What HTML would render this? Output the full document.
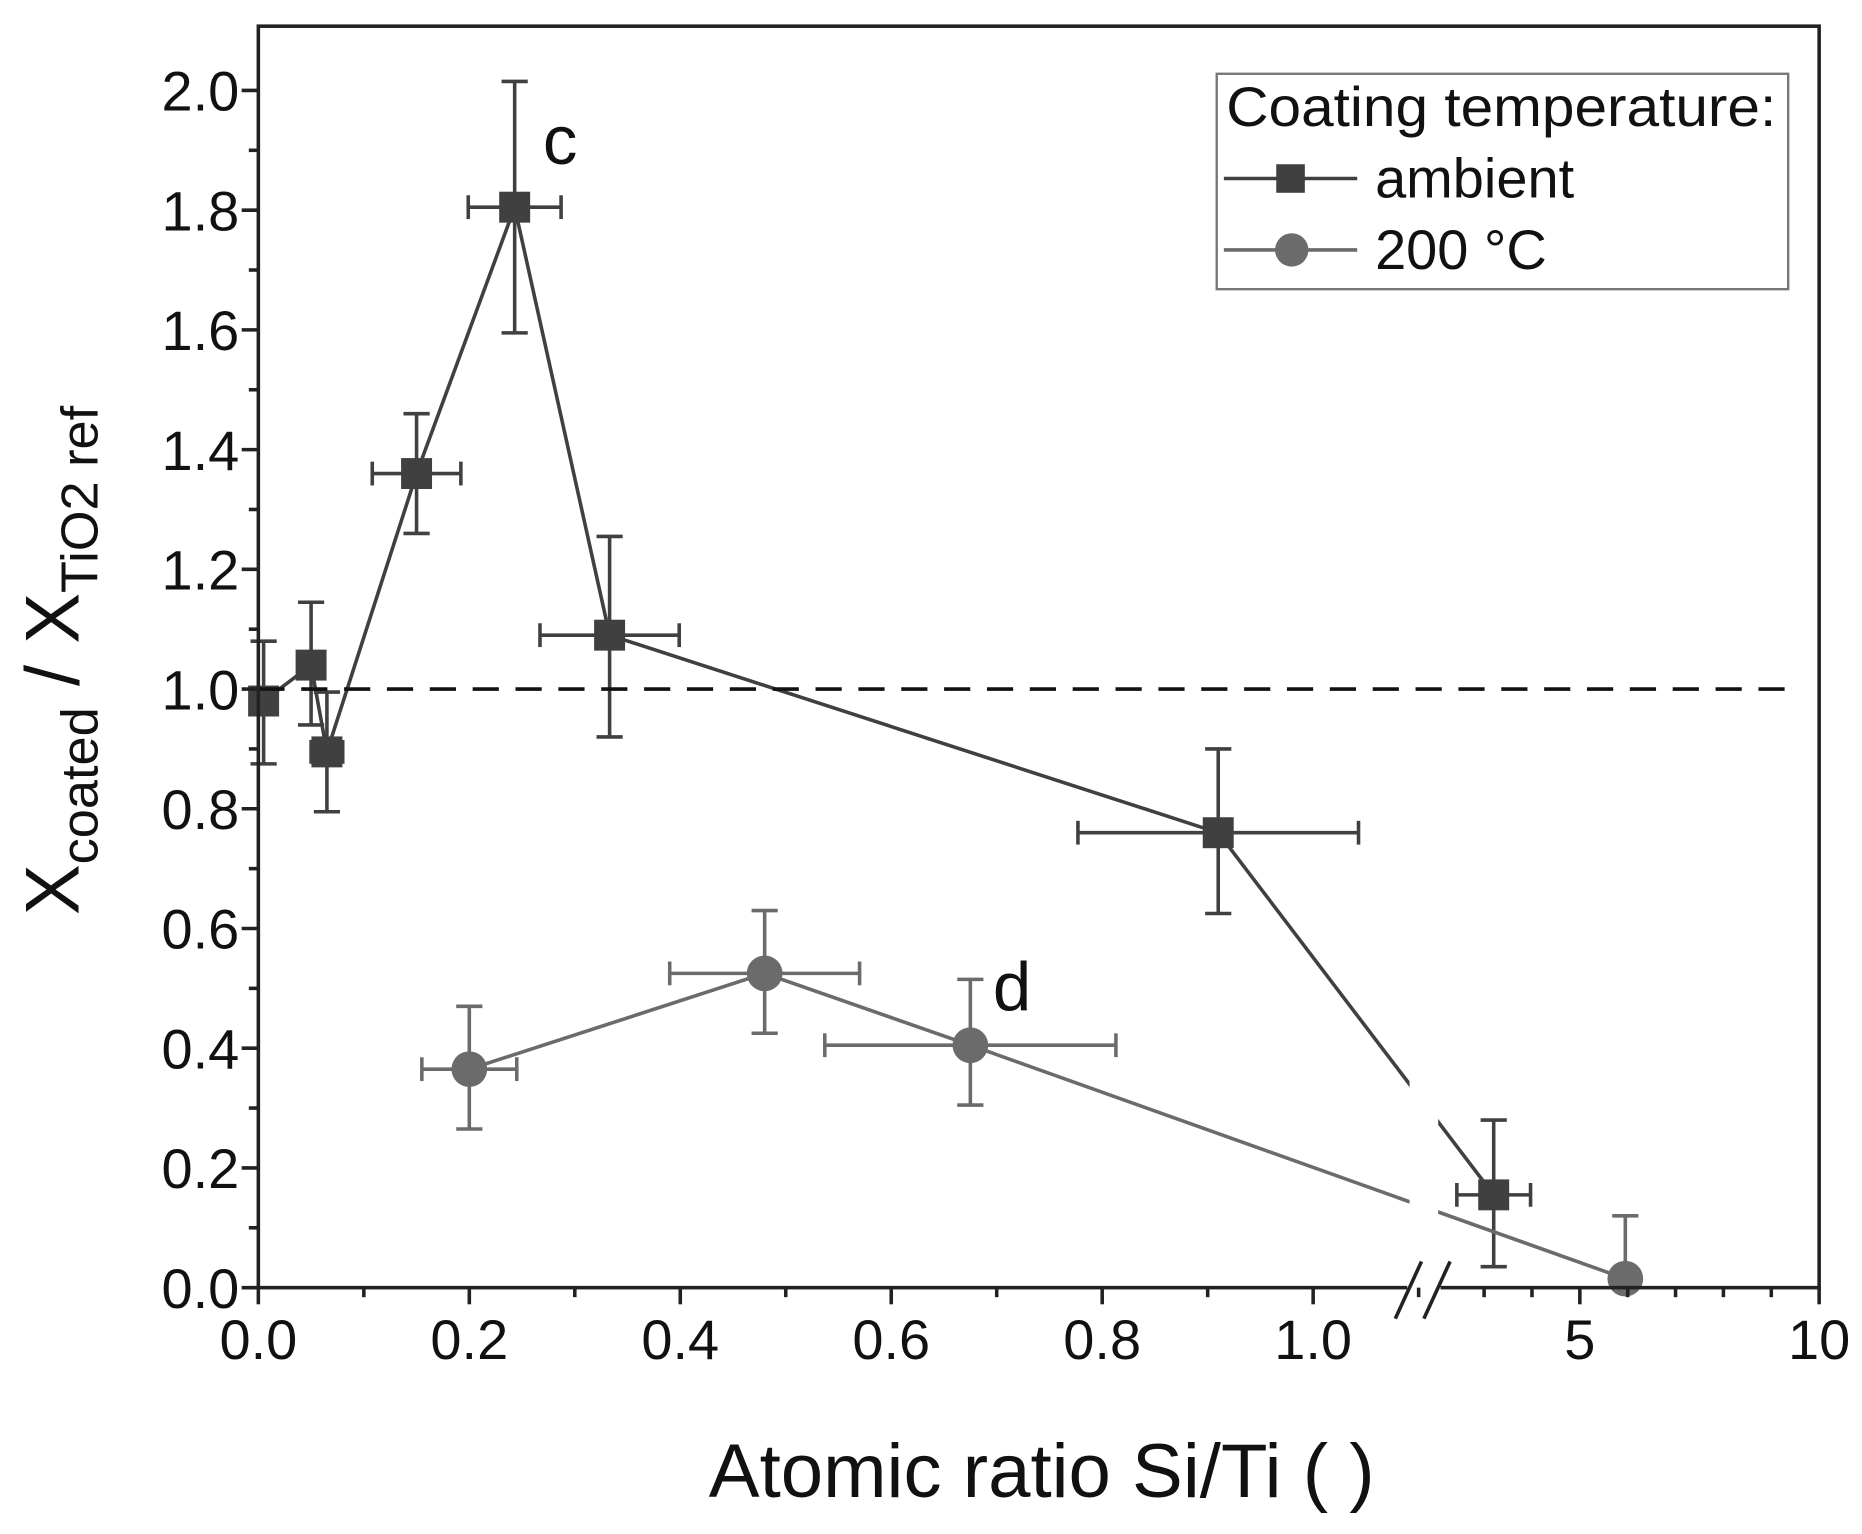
<!DOCTYPE html>
<html><head><meta charset="utf-8"><style>
html,body{margin:0;padding:0;background:#fff;}
svg{display:block;font-family:"Liberation Sans",Arial,sans-serif;}
</style></head><body>
<svg id="chart" width="1862" height="1534" viewBox="0 0 1564 1289" preserveAspectRatio="none" xmlns="http://www.w3.org/2000/svg">
<g id="g"></g>
</svg>
<script>
const ambX=[0.005,0.05,0.065,0.15,0.243,0.333,0.91,3.2];
const ambY=[0.98,1.04,0.895,1.36,1.805,1.09,0.76,0.155];
const ambXerr=[0.005,0,0.015,0.042,0.044,0.066,0.133,0.77];
const ambYlo=[0.875,0.94,0.795,1.26,1.595,0.92,0.625,0.035];
const ambYhi=[1.08,1.145,0.995,1.46,2.015,1.255,0.9,0.28];
const hotX=[0.2,0.48,0.675,5.95];
const hotY=[0.365,0.525,0.405,0.015];
const hotXerr=[0.045,0.09,0.138,0];
const hotYlo=[0.265,0.425,0.305,0.015];
const hotYhi=[0.47,0.63,0.515,0.12];
const yTicks=[0,0.2,0.4,0.6,0.8,1.0,1.2,1.4,1.6,1.8,2.0];
const xTicksL=[0,0.2,0.4,0.6,0.8,1.0];
const xTicksR=[5,10];

const L=217,R=1528,T=22,B=1082,BRK=1196;
function sx(v){return v<=1.15? L+v*886 : 1327+(v-5)*40.2;}
function sy(v){return B-v*503;}
const NS="http://www.w3.org/2000/svg";
const g=document.getElementById('g');
function el(t,a,txt){const e=document.createElementNS(NS,t);for(const k in a)e.setAttribute(k,a[k]);if(txt!==undefined)e.textContent=txt;g.appendChild(e);return e;}

function series(xs,ys,xe,ylo,yhi,col,shape,name){
  let pts=xs.map((x,i)=>sx(x)+','+sy(ys[i])).join(' ');
  let pl=el('polyline',{points:pts,fill:'none',stroke:col,'stroke-width':3});
  
  
  xs.forEach((x,i)=>{
    const cx=sx(x),cy=sy(ys[i]);
    const eb=el('g',{stroke:col,'stroke-width':3,fill:'none'});
    
    
    const y1=sy(yhi[i]),y2=sy(ylo[i]);
    [{x1:cx,x2:cx,y1:y1,y2:y2},{x1:cx-11,x2:cx+11,y1:y1,y2:y1},{x1:cx-11,x2:cx+11,y1:y2,y2:y2}].forEach(a=>{const e=document.createElementNS(NS,'line');for(const k in a)e.setAttribute(k,a[k]);eb.appendChild(e);});
    if(xe[i]>0){
      const xa=sx(x-xe[i]),xb=sx(x+xe[i]);
      [{x1:xa,x2:xb,y1:cy,y2:cy},{x1:xa,x2:xa,y1:cy-10,y2:cy+10},{x1:xb,x2:xb,y1:cy-10,y2:cy+10}].forEach(a=>{const e=document.createElementNS(NS,'line');for(const k in a)e.setAttribute(k,a[k]);eb.appendChild(e);});
    }
    let m;
    if(shape==='sq') m=el('rect',{x:cx-13,y:cy-13,width:26,height:26,fill:col});
    else m=el('circle',{cx:cx,cy:cy,r:15,fill:col});
    
    
  });
}
series(ambX,ambY,ambXerr,ambYlo,ambYhi,'#404040','sq','ambient');
series(hotX,hotY,hotXerr,hotYlo,hotYhi,'#6b6b6b','ci','200c');

let gap=el('rect',{x:BRK-12,y:T+5,width:24,height:B-T-20,fill:'#fff'});



let d=el('line',{x1:L,x2:1510,y1:sy(1),y2:sy(1),stroke:'#111','stroke-width':3,'stroke-dasharray':'22 14'});



let fr=el('rect',{x:L,y:T,width:R-L,height:B-T,fill:'none',stroke:'#222','stroke-width':3});


let bm=el('rect',{x:BRK-14,y:B-4,width:28,height:8,fill:'#fff'});


[BRK-12,BRK+12].forEach(bx=>{let s=el('line',{x1:bx-12,x2:bx+10,y1:B+26,y2:B-22,stroke:'#222','stroke-width':3});

});

yTicks.forEach((v,i)=>{
  const y=sy(v);
  el('line',{x1:L-14,x2:L,y1:y,y2:y,stroke:'#222','stroke-width':3});
  if(i<yTicks.length-1){const ym=sy(v+0.1);el('line',{x1:L-8,x2:L,y1:ym,y2:ym,stroke:'#222','stroke-width':3});}
  let t=el('text',{x:L-16,y:y+17,'text-anchor':'end','font-size':47,fill:'#111'},v.toFixed(1));
  
  
});
xTicksL.forEach((v,i)=>{
  const x=sx(v);
  el('line',{x1:x,x2:x,y1:B,y2:B+14,stroke:'#222','stroke-width':3});
  el('line',{x1:sx(v+0.1),x2:sx(v+0.1),y1:B,y2:B+8,stroke:'#222','stroke-width':3});
  let t=el('text',{x:x,y:B+60,'text-anchor':'middle','font-size':47,fill:'#111'},v.toFixed(1));
  
  
});
for(let v=3;v<=10;v++){const x=sx(v);el('line',{x1:x,x2:x,y1:B,y2:B+(v%5===0?14:8),stroke:'#222','stroke-width':3});}
xTicksR.forEach(v=>{
  let t=el('text',{x:sx(v),y:B+60,'text-anchor':'middle','font-size':47,fill:'#111'},String(v));
  
  
});
</script>
<script>
const s=document.getElementById('chart');
s.insertAdjacentHTML('beforeend',`
<text x="875" y="1258" text-anchor="middle" font-size="64" fill="#111">Atomic ratio Si/Ti ( )</text>
<text transform="translate(66,555) rotate(-90)" text-anchor="middle" font-size="64" fill="#111">X<tspan font-size="44" dy="16">coated</tspan><tspan dy="-16"> / X</tspan><tspan font-size="44" dy="16">TiO2 ref</tspan></text>
<text x="456" y="138" font-size="58" fill="#111">c</text>
<text x="834" y="849" font-size="58" fill="#111">d</text>
<g>
<rect x="1022" y="62" width="480" height="181" fill="#fff" stroke="#777" stroke-width="2"/>
<text x="1030" y="106" font-size="47" fill="#111" textLength="462" lengthAdjust="spacingAndGlyphs">Coating temperature:</text>
<line x1="1028" x2="1140" y1="150" y2="150" stroke="#404040" stroke-width="3"/>
<rect x="1072" y="138" width="24" height="24" fill="#404040"/>
<text x="1155" y="166" font-size="47" fill="#111">ambient</text>
<line x1="1028" x2="1140" y1="210" y2="210" stroke="#6b6b6b" stroke-width="3"/>
<circle cx="1085" cy="210" r="14" fill="#6b6b6b"/>
<text x="1155" y="226" font-size="47" fill="#111">200 °C</text>
</g>`);
</script>
</body></html>
